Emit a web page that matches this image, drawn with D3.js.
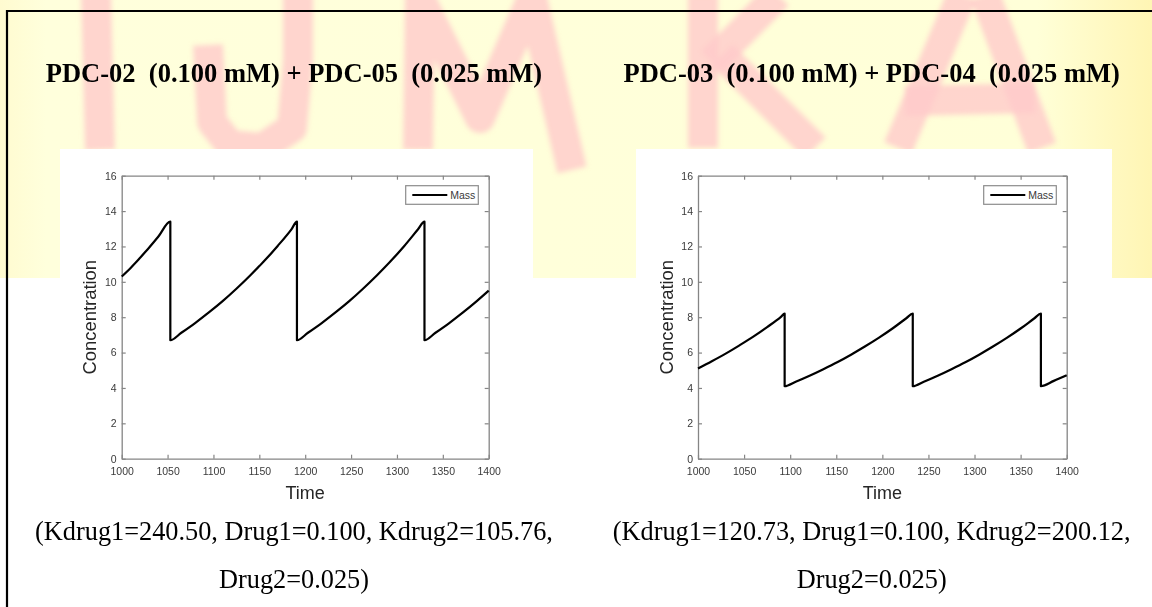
<!DOCTYPE html>
<html>
<head>
<meta charset="utf-8">
<script src="https://cdn.jsdelivr.net/npm/d3@7"></script>
<style>
  html, body { margin: 0; padding: 0; background: #fff; }
  svg { display: block; }
</style>
</head>
<body>
<div id="chart"></div>
<script>
// ---- chart values ----
var xTicks = [1000, 1050, 1100, 1150, 1200, 1250, 1300, 1350, 1400];
var yTicks = [0, 2, 4, 6, 8, 10, 12, 14, 16];

// left panel: PDC-02 + PDC-05
var timeA = [1000, 1010, 1020, 1030, 1040, 1053,
             1053, 1065, 1080, 1095, 1110, 1125, 1140, 1155, 1170, 1185, 1191,
             1191, 1203, 1218, 1233, 1248, 1263, 1278, 1293, 1308, 1323, 1330,
             1330, 1342, 1357, 1372, 1387, 1400];
var concA = [10.3, 10.8, 11.36, 11.94, 12.56, 13.4,
             6.7, 7.12, 7.67, 8.27, 8.91, 9.61, 10.36, 11.16, 12.03, 12.97, 13.4,
             6.7, 7.12, 7.67, 8.27, 8.91, 9.61, 10.36, 11.16, 12.03, 12.97, 13.4,
             6.7, 7.12, 7.67, 8.27, 8.91, 9.5];

// right panel: PDC-03 + PDC-04
var timeB = [1000, 1015, 1030, 1045, 1060, 1075, 1090, 1094,
             1094, 1106, 1121, 1136, 1151, 1166, 1181, 1196, 1211, 1226, 1233,
             1233, 1245, 1260, 1275, 1290, 1305, 1320, 1335, 1350, 1365, 1372,
             1372, 1386, 1400];
var concB = [5.1, 5.51, 5.94, 6.41, 6.9, 7.44, 8.02, 8.2,
             4.1, 4.35, 4.69, 5.06, 5.45, 5.88, 6.34, 6.83, 7.36, 7.94, 8.2,
             4.1, 4.35, 4.69, 5.06, 5.45, 5.88, 6.34, 6.83, 7.36, 7.94, 8.2,
             4.1, 4.4, 4.72];

var titles = ["PDC-02  (0.100 mM) + PDC-05  (0.025 mM)",
              "PDC-03  (0.100 mM) + PDC-04  (0.025 mM)"];
var captions1 = ["(Kdrug1=240.50, Drug1=0.100, Kdrug2=105.76,",
                 "(Kdrug1=120.73, Drug1=0.100, Kdrug2=200.12,"];
var captions2 = ["Drug2=0.025)", "Drug2=0.025)"];
var legendLabel = "Mass";
var xLabel = "Time", yLabel = "Concentration";

// ---- page ----
var W = 1152, H = 607;
var svg = d3.select("#chart").append("svg")
  .attr("width", W)
  .attr("height", H);

var defs = svg.append("defs");
var grad = defs.append("linearGradient").attr("id", "band")
  .attr("x1", "0").attr("x2", "1").attr("y1", "0").attr("y2", "0");
grad.append("stop").attr("offset", "0").attr("stop-color", "#fffbd0");
grad.append("stop").attr("offset", "0.04").attr("stop-color", "#ffffdc");
grad.append("stop").attr("offset", "0.9").attr("stop-color", "#ffffd8");
grad.append("stop").attr("offset", "1").attr("stop-color", "#fff5b4");
defs.append("filter").attr("id", "soft")
  .append("feGaussianBlur").attr("stdDeviation", 2.5);

svg.append("rect").attr("width", W).attr("height", H).attr("fill", "#fff");
svg.append("rect").attr("width", W).attr("height", 278).attr("fill", "url(#band)");

// watermark letters behind the figure
var watermark = [
  [[96, -5], [100, 150]],
  [[208, 45], [212, 122], [230, 145], [262, 148], [292, 128], [298, 60], [298, -5]],
  [[418, 150], [420, -2], [480, 118], [532, -2], [572, 170]],
  [[703, -5], [703, 148]],
  [[712, 62], [778, -5]],
  [[722, 55], [815, 148]],
  [[898, 148], [962, -5]],
  [[985, -5], [1042, 148]],
  [[905, 101], [1035, 98]]
];
svg.append("g")
  .attr("filter", "url(#soft)")
  .selectAll("path")
  .data(watermark)
  .join("path")
    .attr("d", d3.line())
    .attr("fill", "none")
    .attr("stroke", "#ffcaca")
    .attr("stroke-width", 30)
    .attr("stroke-linejoin", "round")
    .attr("opacity", 0.8);

// black frame
svg.append("line").attr("x1", 6).attr("x2", W).attr("y1", 11).attr("y2", 11)
  .attr("stroke", "#000").attr("stroke-width", 2.2);
svg.append("line").attr("x1", 7).attr("x2", 7).attr("y1", 10).attr("y2", H)
  .attr("stroke", "#000").attr("stroke-width", 2.2);

var panels = [
  {time: timeA, conc: concA, box: [60, 149, 473, 360], plot: [121.7, 175.7, 488.7, 458.7], center: 294},
  {time: timeB, conc: concB, box: [636, 149, 476, 360], plot: [698, 175.7, 1066.7, 458.7], center: 871.7}
];

var axisColor = "#858585", textColor = "#3a3a3a";
var sans = "'Liberation Sans', Arial, Helvetica, sans-serif";
var serif = "'Liberation Serif', 'Times New Roman', Times, serif";

panels.forEach(function(p, i) {
  // white figure background
  svg.append("rect")
    .attr("x", p.box[0]).attr("y", p.box[1])
    .attr("width", p.box[2]).attr("height", p.box[3])
    .attr("fill", "#fff");

  // title
  svg.append("text")
    .attr("x", p.center).attr("y", 81.7)
    .attr("text-anchor", "middle")
    .attr("xml:space", "preserve")
    .style("white-space", "pre")
    .style("font-family", serif)
    .style("font-weight", "bold")
    .style("font-size", "26.5px")
    .text(titles[i]);

  // captions
  svg.append("text")
    .attr("x", p.center).attr("y", 540)
    .attr("text-anchor", "middle")
    .style("font-family", serif)
    .style("font-size", "26.3px")
    .text(captions1[i]);
  svg.append("text")
    .attr("x", p.center).attr("y", 588)
    .attr("text-anchor", "middle")
    .style("font-family", serif)
    .style("font-size", "26.3px")
    .text(captions2[i]);

  var x = d3.scaleLinear().domain([1000, 1400]).range([p.plot[0], p.plot[2]]);
  var y = d3.scaleLinear().domain([0, 16]).range([p.plot[3], p.plot[1]]);

  var g = svg.append("g");

  function styleAxis(sel) {
    sel.select(".domain").attr("stroke", axisColor).attr("stroke-width", 1.3);
    sel.selectAll(".tick line").attr("stroke", axisColor).attr("stroke-width", 1.2);
    sel.selectAll(".tick text")
      .attr("fill", textColor)
      .style("font-family", sans)
      .style("font-size", "10.5px");
  }

  g.append("g")
    .attr("transform", "translate(0," + p.plot[3] + ")")
    .call(d3.axisBottom(x).tickValues(xTicks).tickFormat(d3.format("d"))
      .tickSizeInner(-4).tickSizeOuter(0).tickPadding(9))
    .call(styleAxis);
  g.append("g")
    .attr("transform", "translate(0," + p.plot[1] + ")")
    .call(d3.axisTop(x).tickValues(xTicks).tickSizeInner(-4).tickSizeOuter(0).tickFormat(""))
    .call(styleAxis);
  g.append("g")
    .attr("transform", "translate(" + p.plot[0] + ",0)")
    .call(d3.axisLeft(y).tickValues(yTicks).tickFormat(d3.format("d"))
      .tickSizeInner(-4).tickSizeOuter(0).tickPadding(5))
    .call(styleAxis);
  g.append("g")
    .attr("transform", "translate(" + p.plot[2] + ",0)")
    .call(d3.axisRight(y).tickValues(yTicks).tickSizeInner(-4).tickSizeOuter(0).tickFormat(""))
    .call(styleAxis);
  g.selectAll(".domain").attr("fill", "none");

  // axis labels
  g.append("text")
    .attr("x", (p.plot[0] + p.plot[2]) / 2).attr("y", 499)
    .attr("text-anchor", "middle")
    .attr("fill", "#262626")
    .style("font-family", sans)
    .style("font-size", "18px")
    .text(xLabel);
  g.append("text")
    .attr("transform", "translate(" + (p.plot[0] - 25.5) + "," + ((p.plot[1] + p.plot[3]) / 2) + ") rotate(-90)")
    .attr("text-anchor", "middle")
    .attr("fill", "#262626")
    .style("font-family", sans)
    .style("font-size", "18.4px")
    .text(yLabel);

  // the series
  var line = d3.line()
    .curve(d3.curveMonotoneX)
    .x(function(d) { return x(d[0]); })
    .y(function(d) { return y(d[1]); });
  g.append("path")
    .datum(d3.zip(p.time, p.conc))
    .attr("fill", "none")
    .attr("stroke", "#000")
    .attr("stroke-width", 2.2)
    .attr("stroke-linejoin", "round")
    .attr("d", line);

  // legend
  var lw = 72.6, lh = 18.6;
  var lx = p.plot[2] - 10.4 - lw, ly = p.plot[1] + 10;
  var leg = g.append("g").attr("transform", "translate(" + lx + "," + ly + ")");
  leg.append("rect")
    .attr("width", lw).attr("height", lh)
    .attr("fill", "#fff")
    .attr("stroke", "#8c8c8c")
    .attr("stroke-width", 1.2);
  leg.append("line")
    .attr("x1", 6.6).attr("x2", 41.6)
    .attr("y1", lh / 2).attr("y2", lh / 2)
    .attr("stroke", "#000").attr("stroke-width", 2.2);
  leg.append("text")
    .attr("x", 44.5).attr("y", 13.3)
    .attr("fill", textColor)
    .style("font-family", sans)
    .style("font-size", "10.5px")
    .text(legendLabel);
});
</script>
</body>
</html>
